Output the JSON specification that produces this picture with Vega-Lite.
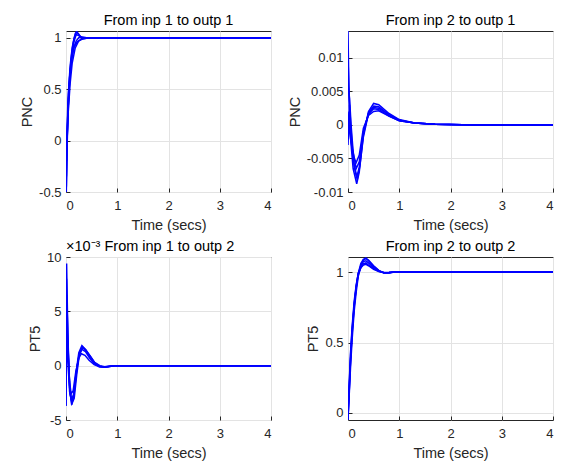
{
 "$schema": "https://vega.github.io/schema/vega-lite/v6.json",
 "padding": {"left": 19, "top": 12, "right": 5, "bottom": 5},
 "background": "white",
 "data": {"values": [
  {"p":1,"c":1,"t":0,"y":0},{"p":1,"c":1,"t":0.006,"y":-0.5},{"p":1,"c":1,"t":0.02,"y":-0.1},{"p":1,"c":1,"t":0.04,"y":0.3},{"p":1,"c":1,"t":0.07,"y":0.6},{"p":1,"c":1,"t":0.1,"y":0.8},{"p":1,"c":1,"t":0.14,"y":0.95},{"p":1,"c":1,"t":0.18,"y":1.04},{"p":1,"c":1,"t":0.21,"y":1.06},{"p":1,"c":1,"t":0.25,"y":1.03},{"p":1,"c":1,"t":0.3,"y":0.995},{"p":1,"c":1,"t":0.35,"y":0.995},{"p":1,"c":1,"t":0.45,"y":1.0},{"p":1,"c":1,"t":4,"y":1.0},
  {"p":1,"c":2,"t":0,"y":0},{"p":1,"c":2,"t":0.008,"y":-0.35},{"p":1,"c":2,"t":0.025,"y":0.05},{"p":1,"c":2,"t":0.05,"y":0.4},{"p":1,"c":2,"t":0.08,"y":0.65},{"p":1,"c":2,"t":0.12,"y":0.85},{"p":1,"c":2,"t":0.16,"y":0.97},{"p":1,"c":2,"t":0.2,"y":1.03},{"p":1,"c":2,"t":0.25,"y":1.02},{"p":1,"c":2,"t":0.3,"y":1.0},{"p":1,"c":2,"t":0.4,"y":1.0},{"p":1,"c":2,"t":4,"y":1.0},
  {"p":1,"c":3,"t":0,"y":0},{"p":1,"c":3,"t":0.01,"y":-0.2},{"p":1,"c":3,"t":0.03,"y":0.2},{"p":1,"c":3,"t":0.06,"y":0.5},{"p":1,"c":3,"t":0.1,"y":0.75},{"p":1,"c":3,"t":0.15,"y":0.9},{"p":1,"c":3,"t":0.2,"y":0.97},{"p":1,"c":3,"t":0.25,"y":1.0},{"p":1,"c":3,"t":0.3,"y":1.01},{"p":1,"c":3,"t":0.4,"y":1.0},{"p":1,"c":3,"t":4,"y":1.0},
  {"p":1,"c":4,"t":0,"y":0},{"p":1,"c":4,"t":0.012,"y":-0.1},{"p":1,"c":4,"t":0.035,"y":0.35},{"p":1,"c":4,"t":0.07,"y":0.62},{"p":1,"c":4,"t":0.11,"y":0.8},{"p":1,"c":4,"t":0.16,"y":0.91},{"p":1,"c":4,"t":0.22,"y":0.96},{"p":1,"c":4,"t":0.3,"y":0.985},{"p":1,"c":4,"t":0.4,"y":0.995},{"p":1,"c":4,"t":0.5,"y":1.0},{"p":1,"c":4,"t":4,"y":1.0},
  {"p":1,"c":5,"t":0,"y":0},{"p":1,"c":5,"t":0.007,"y":-0.45},{"p":1,"c":5,"t":0.02,"y":-0.05},{"p":1,"c":5,"t":0.045,"y":0.45},{"p":1,"c":5,"t":0.08,"y":0.72},{"p":1,"c":5,"t":0.12,"y":0.9},{"p":1,"c":5,"t":0.16,"y":1.0},{"p":1,"c":5,"t":0.2,"y":1.05},{"p":1,"c":5,"t":0.24,"y":1.04},{"p":1,"c":5,"t":0.3,"y":1.0},{"p":1,"c":5,"t":0.4,"y":0.998},{"p":1,"c":5,"t":4,"y":1.0},
  {"p":1,"c":6,"t":0,"y":0},{"p":1,"c":6,"t":0.015,"y":-0.05},{"p":1,"c":6,"t":0.04,"y":0.25},{"p":1,"c":6,"t":0.08,"y":0.55},{"p":1,"c":6,"t":0.12,"y":0.75},{"p":1,"c":6,"t":0.18,"y":0.9},{"p":1,"c":6,"t":0.25,"y":0.97},{"p":1,"c":6,"t":0.33,"y":0.99},{"p":1,"c":6,"t":0.45,"y":1.0},{"p":1,"c":6,"t":4,"y":1.0},

  {"p":2,"c":1,"t":0,"y":0.014},{"p":2,"c":1,"t":0.02,"y":0.004},{"p":2,"c":1,"t":0.05,"y":-0.002},{"p":2,"c":1,"t":0.1,"y":-0.0065},{"p":2,"c":1,"t":0.17,"y":-0.0088},{"p":2,"c":1,"t":0.22,"y":-0.007},{"p":2,"c":1,"t":0.3,"y":-0.0015},{"p":2,"c":1,"t":0.4,"y":0.002},{"p":2,"c":1,"t":0.5,"y":0.0032},{"p":2,"c":1,"t":0.6,"y":0.003},{"p":2,"c":1,"t":0.8,"y":0.0017},{"p":2,"c":1,"t":1,"y":0.0008},{"p":2,"c":1,"t":1.3,"y":0.0003},{"p":2,"c":1,"t":1.7,"y":0.0001},{"p":2,"c":1,"t":2.5,"y":0},{"p":2,"c":1,"t":4,"y":0},
  {"p":2,"c":2,"t":0,"y":0.01},{"p":2,"c":2,"t":0.02,"y":0.005},{"p":2,"c":2,"t":0.05,"y":-0.001},{"p":2,"c":2,"t":0.1,"y":-0.005},{"p":2,"c":2,"t":0.17,"y":-0.0078},{"p":2,"c":2,"t":0.22,"y":-0.0063},{"p":2,"c":2,"t":0.3,"y":-0.0012},{"p":2,"c":2,"t":0.4,"y":0.0018},{"p":2,"c":2,"t":0.5,"y":0.0028},{"p":2,"c":2,"t":0.6,"y":0.0027},{"p":2,"c":2,"t":0.8,"y":0.0015},{"p":2,"c":2,"t":1,"y":0.0007},{"p":2,"c":2,"t":1.3,"y":0.0003},{"p":2,"c":2,"t":1.7,"y":0.0001},{"p":2,"c":2,"t":2.5,"y":0},{"p":2,"c":2,"t":4,"y":0},
  {"p":2,"c":3,"t":0,"y":0.006},{"p":2,"c":3,"t":0.03,"y":0.004},{"p":2,"c":3,"t":0.06,"y":0},{"p":2,"c":3,"t":0.1,"y":-0.004},{"p":2,"c":3,"t":0.16,"y":-0.0065},{"p":2,"c":3,"t":0.22,"y":-0.0055},{"p":2,"c":3,"t":0.3,"y":-0.001},{"p":2,"c":3,"t":0.4,"y":0.0016},{"p":2,"c":3,"t":0.5,"y":0.0024},{"p":2,"c":3,"t":0.6,"y":0.0023},{"p":2,"c":3,"t":0.8,"y":0.0013},{"p":2,"c":3,"t":1,"y":0.0006},{"p":2,"c":3,"t":1.3,"y":0.0003},{"p":2,"c":3,"t":1.7,"y":0.0001},{"p":2,"c":3,"t":2.5,"y":0},{"p":2,"c":3,"t":4,"y":0},
  {"p":2,"c":4,"t":0,"y":0.002},{"p":2,"c":4,"t":0.03,"y":-0.001},{"p":2,"c":4,"t":0.07,"y":-0.003},{"p":2,"c":4,"t":0.12,"y":-0.005},{"p":2,"c":4,"t":0.16,"y":-0.0056},{"p":2,"c":4,"t":0.22,"y":-0.0045},{"p":2,"c":4,"t":0.3,"y":-0.0005},{"p":2,"c":4,"t":0.4,"y":0.0014},{"p":2,"c":4,"t":0.5,"y":0.002},{"p":2,"c":4,"t":0.6,"y":0.0021},{"p":2,"c":4,"t":0.8,"y":0.0013},{"p":2,"c":4,"t":1,"y":0.0006},{"p":2,"c":4,"t":1.3,"y":0.0003},{"p":2,"c":4,"t":1.7,"y":0.0001},{"p":2,"c":4,"t":2.5,"y":0},{"p":2,"c":4,"t":4,"y":0},
  {"p":2,"c":5,"t":0,"y":-0.003},{"p":2,"c":5,"t":0.03,"y":0.003},{"p":2,"c":5,"t":0.07,"y":-0.002},{"p":2,"c":5,"t":0.12,"y":-0.0062},{"p":2,"c":5,"t":0.18,"y":-0.0082},{"p":2,"c":5,"t":0.23,"y":-0.0062},{"p":2,"c":5,"t":0.3,"y":-0.0018},{"p":2,"c":5,"t":0.4,"y":0.0017},{"p":2,"c":5,"t":0.5,"y":0.0026},{"p":2,"c":5,"t":0.6,"y":0.0025},{"p":2,"c":5,"t":0.8,"y":0.0015},{"p":2,"c":5,"t":1,"y":0.0007},{"p":2,"c":5,"t":1.3,"y":0.0003},{"p":2,"c":5,"t":1.7,"y":0.0001},{"p":2,"c":5,"t":2.5,"y":0},{"p":2,"c":5,"t":4,"y":0},

  {"p":3,"c":1,"t":0,"y":-3.7},{"p":3,"c":1,"t":0.012,"y":9.4},{"p":3,"c":1,"t":0.035,"y":3},{"p":3,"c":1,"t":0.07,"y":-2},{"p":3,"c":1,"t":0.11,"y":-3.6},{"p":3,"c":1,"t":0.15,"y":-2.8},{"p":3,"c":1,"t":0.2,"y":-0.5},{"p":3,"c":1,"t":0.25,"y":1.2},{"p":3,"c":1,"t":0.31,"y":1.85},{"p":3,"c":1,"t":0.38,"y":1.5},{"p":3,"c":1,"t":0.46,"y":0.8},{"p":3,"c":1,"t":0.55,"y":0.2},{"p":3,"c":1,"t":0.65,"y":-0.1},{"p":3,"c":1,"t":0.75,"y":-0.15},{"p":3,"c":1,"t":0.95,"y":0},{"p":3,"c":1,"t":4,"y":0},
  {"p":3,"c":2,"t":0,"y":0},{"p":3,"c":2,"t":0.01,"y":8},{"p":3,"c":2,"t":0.035,"y":2.5},{"p":3,"c":2,"t":0.07,"y":-1.8},{"p":3,"c":2,"t":0.11,"y":-3.2},{"p":3,"c":2,"t":0.15,"y":-2.6},{"p":3,"c":2,"t":0.2,"y":-0.6},{"p":3,"c":2,"t":0.25,"y":0.9},{"p":3,"c":2,"t":0.31,"y":1.5},{"p":3,"c":2,"t":0.38,"y":1.3},{"p":3,"c":2,"t":0.46,"y":0.7},{"p":3,"c":2,"t":0.55,"y":0.2},{"p":3,"c":2,"t":0.65,"y":-0.05},{"p":3,"c":2,"t":0.75,"y":-0.12},{"p":3,"c":2,"t":0.95,"y":0},{"p":3,"c":2,"t":4,"y":0},
  {"p":3,"c":3,"t":0,"y":-2},{"p":3,"c":3,"t":0.008,"y":5.5},{"p":3,"c":3,"t":0.035,"y":1.5},{"p":3,"c":3,"t":0.07,"y":-1.5},{"p":3,"c":3,"t":0.1,"y":-2.6},{"p":3,"c":3,"t":0.14,"y":-2.3},{"p":3,"c":3,"t":0.19,"y":-0.6},{"p":3,"c":3,"t":0.25,"y":0.7},{"p":3,"c":3,"t":0.3,"y":1.1},{"p":3,"c":3,"t":0.37,"y":0.95},{"p":3,"c":3,"t":0.45,"y":0.5},{"p":3,"c":3,"t":0.55,"y":0.1},{"p":3,"c":3,"t":0.65,"y":-0.1},{"p":3,"c":3,"t":0.75,"y":-0.1},{"p":3,"c":3,"t":0.95,"y":0},{"p":3,"c":3,"t":4,"y":0},
  {"p":3,"c":4,"t":0,"y":-3.7},{"p":3,"c":4,"t":0.01,"y":2},{"p":3,"c":4,"t":0.035,"y":0.5},{"p":3,"c":4,"t":0.07,"y":-2.4},{"p":3,"c":4,"t":0.115,"y":-3.5},{"p":3,"c":4,"t":0.16,"y":-3},{"p":3,"c":4,"t":0.21,"y":-0.8},{"p":3,"c":4,"t":0.26,"y":1},{"p":3,"c":4,"t":0.32,"y":1.65},{"p":3,"c":4,"t":0.39,"y":1.4},{"p":3,"c":4,"t":0.47,"y":0.9},{"p":3,"c":4,"t":0.56,"y":0.25},{"p":3,"c":4,"t":0.66,"y":-0.05},{"p":3,"c":4,"t":0.76,"y":-0.15},{"p":3,"c":4,"t":0.95,"y":0},{"p":3,"c":4,"t":4,"y":0},
  {"p":3,"c":5,"t":0,"y":5},{"p":3,"c":5,"t":0.015,"y":6.5},{"p":3,"c":5,"t":0.045,"y":1},{"p":3,"c":5,"t":0.08,"y":-2.6},{"p":3,"c":5,"t":0.115,"y":-3.3},{"p":3,"c":5,"t":0.16,"y":-2.5},{"p":3,"c":5,"t":0.21,"y":-0.4},{"p":3,"c":5,"t":0.26,"y":1.1},{"p":3,"c":5,"t":0.32,"y":1.75},{"p":3,"c":5,"t":0.39,"y":1.45},{"p":3,"c":5,"t":0.47,"y":0.9},{"p":3,"c":5,"t":0.56,"y":0.3},{"p":3,"c":5,"t":0.66,"y":0},{"p":3,"c":5,"t":0.76,"y":-0.1},{"p":3,"c":5,"t":0.95,"y":0},{"p":3,"c":5,"t":4,"y":0},

  {"p":4,"c":1,"t":0,"y":-0.05},{"p":4,"c":1,"t":0.02,"y":0.12},{"p":4,"c":1,"t":0.05,"y":0.37},{"p":4,"c":1,"t":0.08,"y":0.56},{"p":4,"c":1,"t":0.12,"y":0.75},{"p":4,"c":1,"t":0.16,"y":0.89},{"p":4,"c":1,"t":0.2,"y":0.99},{"p":4,"c":1,"t":0.25,"y":1.06},{"p":4,"c":1,"t":0.3,"y":1.09},{"p":4,"c":1,"t":0.35,"y":1.1},{"p":4,"c":1,"t":0.4,"y":1.08},{"p":4,"c":1,"t":0.5,"y":1.04},{"p":4,"c":1,"t":0.6,"y":1.01},{"p":4,"c":1,"t":0.7,"y":0.995},{"p":4,"c":1,"t":0.8,"y":0.993},{"p":4,"c":1,"t":0.9,"y":1.0},{"p":4,"c":1,"t":4,"y":1.0},
  {"p":4,"c":2,"t":0,"y":-0.03},{"p":4,"c":2,"t":0.02,"y":0.13},{"p":4,"c":2,"t":0.05,"y":0.38},{"p":4,"c":2,"t":0.08,"y":0.57},{"p":4,"c":2,"t":0.12,"y":0.76},{"p":4,"c":2,"t":0.16,"y":0.89},{"p":4,"c":2,"t":0.2,"y":0.98},{"p":4,"c":2,"t":0.25,"y":1.03},{"p":4,"c":2,"t":0.3,"y":1.06},{"p":4,"c":2,"t":0.35,"y":1.065},{"p":4,"c":2,"t":0.4,"y":1.05},{"p":4,"c":2,"t":0.5,"y":1.025},{"p":4,"c":2,"t":0.6,"y":1.005},{"p":4,"c":2,"t":0.7,"y":0.995},{"p":4,"c":2,"t":0.8,"y":0.997},{"p":4,"c":2,"t":0.9,"y":1.0},{"p":4,"c":2,"t":4,"y":1.0},
  {"p":4,"c":3,"t":0,"y":0},{"p":4,"c":3,"t":0.02,"y":0.16},{"p":4,"c":3,"t":0.05,"y":0.41},{"p":4,"c":3,"t":0.08,"y":0.59},{"p":4,"c":3,"t":0.12,"y":0.77},{"p":4,"c":3,"t":0.16,"y":0.9},{"p":4,"c":3,"t":0.2,"y":0.99},{"p":4,"c":3,"t":0.25,"y":1.045},{"p":4,"c":3,"t":0.3,"y":1.075},{"p":4,"c":3,"t":0.35,"y":1.08},{"p":4,"c":3,"t":0.4,"y":1.065},{"p":4,"c":3,"t":0.5,"y":1.03},{"p":4,"c":3,"t":0.6,"y":1.008},{"p":4,"c":3,"t":0.7,"y":0.996},{"p":4,"c":3,"t":0.8,"y":0.997},{"p":4,"c":3,"t":0.9,"y":1.0},{"p":4,"c":3,"t":4,"y":1.0},
  {"p":4,"c":4,"t":0,"y":-0.04},{"p":4,"c":4,"t":0.02,"y":0.1},{"p":4,"c":4,"t":0.05,"y":0.33},{"p":4,"c":4,"t":0.08,"y":0.52},{"p":4,"c":4,"t":0.12,"y":0.72},{"p":4,"c":4,"t":0.16,"y":0.86},{"p":4,"c":4,"t":0.2,"y":0.97},{"p":4,"c":4,"t":0.25,"y":1.045},{"p":4,"c":4,"t":0.3,"y":1.085},{"p":4,"c":4,"t":0.35,"y":1.095},{"p":4,"c":4,"t":0.4,"y":1.085},{"p":4,"c":4,"t":0.5,"y":1.045},{"p":4,"c":4,"t":0.6,"y":1.012},{"p":4,"c":4,"t":0.7,"y":0.994},{"p":4,"c":4,"t":0.8,"y":0.994},{"p":4,"c":4,"t":0.9,"y":1.0},{"p":4,"c":4,"t":4,"y":1.0},
  {"p":4,"c":5,"t":0,"y":0.02},{"p":4,"c":5,"t":0.02,"y":0.18},{"p":4,"c":5,"t":0.05,"y":0.43},{"p":4,"c":5,"t":0.08,"y":0.61},{"p":4,"c":5,"t":0.12,"y":0.79},{"p":4,"c":5,"t":0.16,"y":0.91},{"p":4,"c":5,"t":0.2,"y":0.99},{"p":4,"c":5,"t":0.25,"y":1.03},{"p":4,"c":5,"t":0.3,"y":1.05},{"p":4,"c":5,"t":0.35,"y":1.055},{"p":4,"c":5,"t":0.4,"y":1.045},{"p":4,"c":5,"t":0.5,"y":1.02},{"p":4,"c":5,"t":0.6,"y":1.004},{"p":4,"c":5,"t":0.7,"y":0.997},{"p":4,"c":5,"t":0.8,"y":0.998},{"p":4,"c":5,"t":0.9,"y":1.0},{"p":4,"c":5,"t":4,"y":1.0}
 ]},
 "columns": 2,
 "spacing": {"row": 65, "column": 77},
 "bounds": "flush",
 "concat": [
  {
   "width": 205, "height": 161,
   "title": {"text": "From inp 1 to outp 1"},
   "transform": [{"filter": "datum.p==1"}],
   "mark": {"type": "line", "color": "#0000ff", "strokeWidth": 1.5, "clip": true},
   "encoding": {
    "x": {"field": "t", "type": "quantitative", "scale": {"domain": [0, 4], "nice": false}, "axis": {"values": [0, 1, 2, 3, 4], "title": "Time (secs)", "labelExpr": "'' + datum.value"}},
    "y": {"field": "y", "type": "quantitative", "scale": {"domain": [-0.5, 1.065], "nice": false, "zero": false}, "axis": {"values": [-0.5, 0, 0.5, 1], "title": "PNC", "labelExpr": "'' + datum.value"}},
    "detail": {"field": "c"}
   }
  },
  {
   "width": 205, "height": 161,
   "title": {"text": "From inp 2 to outp 1"},
   "transform": [{"filter": "datum.p==2"}],
   "mark": {"type": "line", "color": "#0000ff", "strokeWidth": 1.5, "clip": true},
   "encoding": {
    "x": {"field": "t", "type": "quantitative", "scale": {"domain": [0, 4], "nice": false}, "axis": {"values": [0, 1, 2, 3, 4], "title": "Time (secs)", "labelExpr": "'' + datum.value"}},
    "y": {"field": "y", "type": "quantitative", "scale": {"domain": [-0.01, 0.014], "nice": false, "zero": false}, "axis": {"values": [-0.01, -0.005, 0, 0.005, 0.01], "title": "PNC", "labelExpr": "'' + datum.value"}},
    "detail": {"field": "c"}
   }
  },
  {
   "width": 205, "height": 163,
   "title": {"text": "×10⁻³ From inp 1 to outp 2", "anchor": "start", "frame": "group", "offset": -3},
   "transform": [{"filter": "datum.p==3"}],
   "mark": {"type": "line", "color": "#0000ff", "strokeWidth": 1.5, "clip": true},
   "encoding": {
    "x": {"field": "t", "type": "quantitative", "scale": {"domain": [0, 4], "nice": false}, "axis": {"values": [0, 1, 2, 3, 4], "title": "Time (secs)", "labelExpr": "'' + datum.value"}},
    "y": {"field": "y", "type": "quantitative", "scale": {"domain": [-5, 10], "nice": false, "zero": false}, "axis": {"values": [-5, 0, 5, 10], "title": "PT5", "labelExpr": "'' + datum.value"}},
    "detail": {"field": "c"}
   }
  },
  {
   "width": 205, "height": 163,
   "title": {"text": "From inp 2 to outp 2"},
   "transform": [{"filter": "datum.p==4"}],
   "mark": {"type": "line", "color": "#0000ff", "strokeWidth": 1.5, "clip": true},
   "encoding": {
    "x": {"field": "t", "type": "quantitative", "scale": {"domain": [0, 4], "nice": false}, "axis": {"values": [0, 1, 2, 3, 4], "title": "Time (secs)", "labelExpr": "'' + datum.value"}},
    "y": {"field": "y", "type": "quantitative", "scale": {"domain": [-0.05, 1.107], "nice": false, "zero": false}, "axis": {"values": [0, 0.5, 1], "title": "PT5", "labelExpr": "'' + datum.value"}},
    "detail": {"field": "c"}
   }
  }
 ],
 "config": {
  "font": "Liberation Sans",
  "view": {"stroke": "#262626", "strokeWidth": 1},
  "title": {"fontSize": 14.5, "fontWeight": "normal", "color": "#000000", "offset": 3, "font": "Liberation Sans"},
  "axis": {"domain": false, "grid": true, "gridColor": "#e3e3e3", "gridWidth": 1, "ticks": true, "tickColor": "#262626", "tickSize": -4, "labelFontSize": 13, "labelColor": "#262626", "labelFont": "Liberation Sans", "titleFont": "Liberation Sans", "titleFontSize": 14.5, "titleFontWeight": "normal", "titleColor": "#262626", "labelPadding": 9},
  "axisX": {"labelPadding": 11, "titlePadding": 6},
  "axisY": {"titlePadding": 4}
 }
}
